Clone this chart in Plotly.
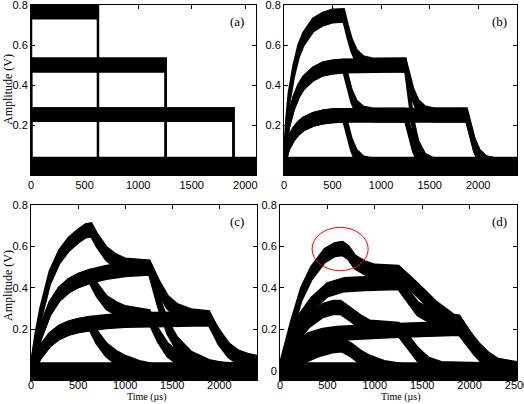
import plotly.graph_objects as go

# ---------------- data ----------------
# Panel (a): ideal staircase pulses
a_t1 = [0, 0, 625, 625, 1257, 1257, 1890, 1890, 2100]
a_v1 = [0, 0.765, 0.765, 0.50, 0.50, 0.252, 0.252, 0, 0]
a_t2 = [0, 0, 1257, 1257, 2100]
a_v2 = [0, 0.50, 0.50, 0, 0]
a_t3 = [0, 0, 625, 625, 1257, 1257, 2100]
a_v3 = [0, 0.50, 0.50, 0.252, 0.252, 0, 0]
a_t4 = [0, 0, 1890, 1890, 2100]
a_v4 = [0, 0.252, 0.252, 0, 0]
a_t5 = [0, 0, 625, 625, 2100]
a_v5 = [0, 0.252, 0.252, 0, 0]

# Panel (b)
b_t1 = [0, 25, 50, 100, 150, 200, 300, 400, 500, 615, 655, 695, 745, 815, 915, 1250, 1290, 1330, 1380, 1450, 1550, 1880, 1920, 1960, 2010, 2080, 2180, 2400]
b_v1 = [0, .2, .33, .47, .57, .63, .7, .73, .745, .748, .67, .60, .545, .512, .50, .50, .425, .35, .295, .262, .25, .25, .175, .10, .045, .012, 0, 0]
b_t2 = [0, 25, 50, 100, 150, 200, 300, 400, 500, 615, 1250, 1290, 1330, 1380, 1450, 1550, 2400]
b_v2 = [0, .135, .22, .31, .37, .41, .455, .48, .49, .495, .5, .35, .2, .09, .025, 0, 0]
b_t3 = [0, 25, 50, 100, 150, 200, 300, 400, 500, 615, 655, 695, 745, 815, 915, 1250, 1290, 1330, 1380, 1450, 1550, 2400]
b_v3 = [0, .135, .22, .31, .37, .41, .455, .48, .49, .495, .42, .345, .29, .26, .25, .25, .175, .1, .045, .012, 0, 0]
b_t4 = [0, 25, 50, 100, 150, 200, 300, 400, 500, 615, 1880, 1920, 1960, 2010, 2080, 2180, 2400]
b_v4 = [0, .068, .11, .155, .185, .205, .228, .24, .246, .248, .25, .175, .1, .045, .012, 0, 0]
b_t5 = [0, 25, 50, 100, 150, 200, 300, 400, 500, 615, 655, 695, 745, 815, 915, 2400]
b_v5 = [0, .068, .11, .155, .185, .205, .228, .24, .246, .248, .175, .1, .045, .012, 0, 0]

# Panel (c)
c_t1 = [0, 50, 100, 200, 300, 400, 500, 580, 640, 700, 800, 900, 1000, 1257, 1350, 1450, 1550, 1700, 1890, 1990, 2100, 2200, 2300, 2400]
c_v1 = [0, .15, .27, .45, .55, .61, .65, .675, .68, .63, .565, .53, .51, .5, .41, .33, .29, .265, .255, .16, .095, .065, .05, .04]
c_t2 = [0, 50, 100, 200, 300, 400, 500, 625, 800, 1000, 1257, 1350, 1450, 1550, 1700, 1890, 2100, 2400]
c_v2 = [0, .1, .18, .3, .37, .41, .435, .455, .475, .488, .495, .34, .21, .13, .06, .02, 0, 0]
c_t3 = [0, 50, 100, 200, 300, 400, 500, 625, 700, 800, 900, 1000, 1257, 1350, 1450, 1550, 1700, 1890, 2400]
c_v3 = [0, .1, .18, .3, .37, .41, .435, .455, .39, .33, .3, .28, .26, .17, .1, .065, .03, .01, 0]
c_t4 = [0, 50, 100, 200, 300, 400, 500, 625, 800, 1000, 1257, 1890, 1990, 2100, 2200, 2300, 2400]
c_v4 = [0, .05, .09, .15, .185, .205, .218, .228, .237, .243, .247, .25, .17, .1, .065, .045, .035]
c_t5 = [0, 50, 100, 200, 300, 400, 500, 625, 700, 800, 900, 1000, 1150, 1300, 2400]
c_v5 = [0, .05, .09, .15, .185, .205, .218, .228, .16, .1, .065, .04, .015, 0, 0]

# Panel (d)
d_t1 = [0, 60, 120, 225, 330, 470, 580, 660, 720, 790, 900, 1000, 1250, 1450, 1650, 1800, 1900, 2000, 2100, 2200, 2300, 2500]
d_v1 = [0, .1, .21, .37, .47, .555, .585, .59, .57, .525, .495, .48, .475, .39, .3, .25, .21, .155, .1, .055, .025, .01]
d_t2 = [0, 50, 190, 330, 500, 680, 900, 1250, 1350, 1450, 1600, 1800, 1890, 2000, 2100, 2200, 2300, 2500]
d_v2 = [0, .05, .23, .32, .39, .415, .42, .425, .36, .3, .26, .24, .235, .16, .09, .045, .015, 0]
d_t3 = [0, 50, 150, 300, 450, 560, 640, 750, 850, 950, 1250, 1350, 1450, 1570, 1700, 2500]
d_v3 = [0, .04, .15, .24, .29, .305, .305, .27, .235, .21, .2, .14, .08, .03, .01, 0]
d_t4 = [0, 50, 150, 300, 450, 600, 800, 1250, 1890, 1950, 2050, 2150, 2250, 2400, 2500]
d_v4 = [0, .03, .1, .15, .17, .18, .185, .195, .205, .17, .11, .06, .03, .01, 0]
d_t5 = [0, 100, 250, 400, 550, 650, 750, 850, 950, 1100, 1300, 2500]
d_v5 = [0, .03, .07, .1, .12, .125, .1, .065, .04, .015, 0, 0]

# noise floor (baseline) per panel
base_t = {"a": [0, 2100], "b": [0, 2400], "c": [0, 2400], "d": [0, 2500]}
base_v = [-0.005, -0.005]

x_ticks_abc = [0, 500, 1000, 1500, 2000]
x_ticks_d = [0, 500, 1000, 1500, 2000, 2500]
y_ticks_abc = [0.2, 0.4, 0.6, 0.8]
y_ticks_d = [0, 0.2, 0.4, 0.6, 0.8]
panel_labels = ["(a)", "(b)", "(c)", "(d)"]

# ---------------- styling ----------------
HALF = 0.031       # half thickness of the noise band (V)
BASE_HALF = 0.04
W, H = 524, 404

fig = go.Figure()


def band(t, v, h, xa, ya):
    xs = list(t) + list(t)[::-1]
    ys = [y + h for y in v] + [y - h for y in v][::-1]
    fig.add_trace(go.Scatter(x=xs, y=ys, mode="lines", fill="toself",
                             fillcolor="black", line=dict(color="black", width=2.5),
                             xaxis=xa, yaxis=ya, showlegend=False, hoverinfo="skip"))


panels = {
    "a": ([(a_t1, a_v1), (a_t2, a_v2), (a_t3, a_v3), (a_t4, a_v4), (a_t5, a_v5)], "x", "y"),
    "b": ([(b_t1, b_v1), (b_t2, b_v2), (b_t3, b_v3), (b_t4, b_v4), (b_t5, b_v5)], "x2", "y2"),
    "c": ([(c_t1, c_v1), (c_t2, c_v2), (c_t3, c_v3), (c_t4, c_v4), (c_t5, c_v5)], "x3", "y3"),
    "d": ([(d_t1, d_v1), (d_t2, d_v2), (d_t3, d_v3), (d_t4, d_v4), (d_t5, d_v5)], "x4", "y4"),
}
for key, (traces, xa, ya) in panels.items():
    band(base_t[key], base_v, BASE_HALF, xa, ya)
    for t, v in traces:
        band(t, v, HALF, xa, ya)


def px_x(p):
    return p / W


def px_y(p):
    return 1 - p / H


tickfont = dict(family="Liberation Sans, Arial", size=11, color="black")
ax_common = dict(showline=True, linecolor="black", linewidth=1, mirror="allticks",
                 ticks="inside", ticklen=4, tickcolor="black", showgrid=False,
                 zeroline=False, tickfont=tickfont, fixedrange=True, automargin=False,
                 ticklabeloverflow="allow")

layout = dict(width=W, height=H, margin=dict(l=0, r=0, t=0, b=0, autoexpand=False),
              paper_bgcolor="white", plot_bgcolor="white", showlegend=False)

doms = {
    "a": ([31, 256], [5, 175], [0, 2100], [-0.05, 0.8], x_ticks_abc, y_ticks_abc, 0),
    "b": ([284, 517], [5, 175], [0, 2400], [-0.05, 0.8], x_ticks_abc, y_ticks_abc, 0),
    "c": ([31, 257], [205, 380], [0, 2400], [-0.045, 0.8], x_ticks_abc, y_ticks_abc, -5),
    "d": ([280, 517], [205, 380], [0, 2500], [-0.045, 0.8], x_ticks_d, y_ticks_d, -5),
}
names = ["", "2", "3", "4"]
for i, key in enumerate(["a", "b", "c", "d"]):
    (x0, x1), (y0, y1), xr, yr, xt, yt, so = doms[key]
    n = names[i]
    layout["xaxis" + n] = dict(ax_common, domain=[px_x(x0), px_x(x1)], range=xr,
                               tickvals=xt, ticktext=[str(v) for v in xt],
                               ticklabelstandoff=so, anchor="y" + n)
    layout["yaxis" + n] = dict(ax_common, domain=[px_y(y1), px_y(y0)], range=yr,
                               tickvals=yt, ticktext=[("%g" % v) for v in yt],
                               anchor="x" + n)
fig.update_layout(**layout)

serif = dict(family="Liberation Serif, Times New Roman", size=13, color="black")
label_pos = [(237, 21), (499, 21), (237, 221), (499, 221)]
for lab, (x, y) in zip(panel_labels, label_pos):
    fig.add_annotation(x=px_x(x), y=px_y(y), xref="paper", yref="paper", text=lab,
                       showarrow=False, font=serif, xanchor="center", yanchor="middle")

for y in (90, 286):
    fig.add_annotation(x=px_x(8), y=px_y(y), xref="paper", yref="paper",
                       text="Amplitude (V)", textangle=-90, showarrow=False,
                       font=dict(serif, size=12), xanchor="center", yanchor="middle")

for x in (147, 401):
    fig.add_annotation(x=px_x(x), y=0, xref="paper", yref="paper",
                       text="Time (\u00b5s)", showarrow=False,
                       font=dict(serif, size=10), borderpad=0,
                       xanchor="center", yanchor="bottom")

fig.add_shape(type="circle", xref="x4", yref="y4", x0=338, x1=930, y0=0.483, y1=0.692,
              line=dict(color="red", width=1))

fig.write_html("out.html")
